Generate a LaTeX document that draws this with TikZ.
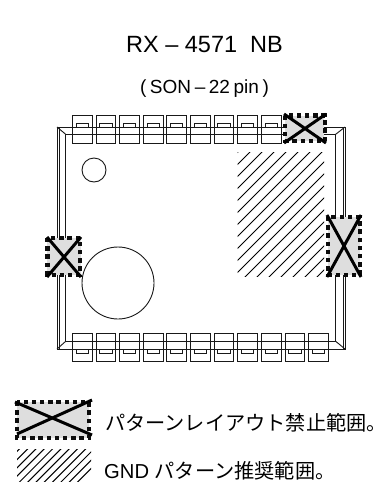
\documentclass[tikz,border=0pt]{standalone}
\usepackage{fontspec}
\setmainfont{Liberation Sans}
\newfontfamily\cjk{Noto Sans CJK JP}
\begin{document}
\begin{tikzpicture}[x=1pt,y=-1pt,
  thinline/.style={line width=0.9pt,draw=black!90},
  forbid/.style={fill=black!13,draw=none},
  dotted edge/.style={draw=black!95,line width=4.8pt,dash pattern=on 4.4pt off 3.8pt},
  crossline/.style={draw=black,line width=3pt},
  hatchline/.style={line width=1pt,black},
  label/.style={inner sep=0pt,anchor=base}]
\useasboundingbox (0,0) rectangle (390,482);
\fill[white] (0,0) rectangle (390,482);
% body
\draw[thinline] (57,127) rectangle (345,349);
\draw[thinline] (59,127) -- (59,349) (343,127) -- (343,349);
\draw[thinline] (65.7,134.3) rectangle (335.7,341.3);
\draw[thinline] (57,127) -- (65.7,134.3) (345,127) -- (335.7,134.3) (57,349) -- (65.7,341.3) (345,349) -- (335.7,341.3);
% pads
\foreach \i in {0,...,8}{
  \pgfmathsetmacro{\px}{72.3+23.65*\i}
  \draw[thinline] (\px,115.7) rectangle +(19.7,27.3);
  \draw[thinline] (\px+3.7,123) rectangle +(12.3,4);
}
\foreach \i in {0,...,10}{
  \pgfmathsetmacro{\px}{72.3+23.65*\i}
  \draw[thinline] (\px,333.7) rectangle +(19.7,27.3);
  \draw[thinline] (\px+3.7,349.3) rectangle +(12.3,4);
}
% circles
\draw[thinline] (94,170) circle (12);
\draw[thinline,fill=white] (118,283) circle (36);
% hatch
\begin{scope}
\clip (237.7,152) rectangle (324,276);
\foreach \k in {0,...,19}{
  \draw[hatchline] (230,160+\k*12) -- +(110,-110);
}
\end{scope}
% forbidden areas
\fill[forbid] (285,116) rectangle (324,141);
\draw[dotted edge] (285,115.5) rectangle (325,141);
\draw[crossline] (284,114) -- (326,143) (284,143) -- (326,114);
\fill[forbid] (47,238) rectangle (81,275);
\draw[dotted edge] (47.5,238) rectangle (80,275);
\draw[crossline] (47,237) -- (81,277) (47,277) -- (81,237);
\fill[forbid] (328,217) rectangle (360,275);
\draw[dotted edge] (328,217) rectangle (360,275);
\draw[crossline] (327,215) -- (361,277) (327,277) -- (361,215);
% legend
\fill[forbid] (17,402) rectangle (89,438);
\draw[dotted edge] (17,402) rectangle (89,438);
\draw[crossline] (15,402) -- (92,435) (17,434) -- (92,400);
\begin{scope}
\clip (17,449) rectangle (91,482);
\foreach \k in {0,...,12}{
  \draw[hatchline] (0,460+\k*8.3) -- +(100,-100);
}
\end{scope}
% text
\node[label] (title) at (204.5,52) {\fontsize{23.5}{28}\selectfont RX – 4571\ \ NB};
\node[label] (sub) at (204.5,93) {\fontsize{19}{23}\selectfont (\hspace{.19em}SON\hspace{.19em}–\hspace{.19em}22\hspace{.19em}pin\hspace{.19em})};
\node[label,anchor=base west] (l1) at (105,430) {\fontsize{20.2}{24}\selectfont\cjk パターンレイアウト禁止範囲。};
\node[label,anchor=base west] (l2) at (104,478) {\fontsize{20.2}{24}\selectfont GND \cjk パターン推奨範囲。};
\end{tikzpicture}
\end{document}
